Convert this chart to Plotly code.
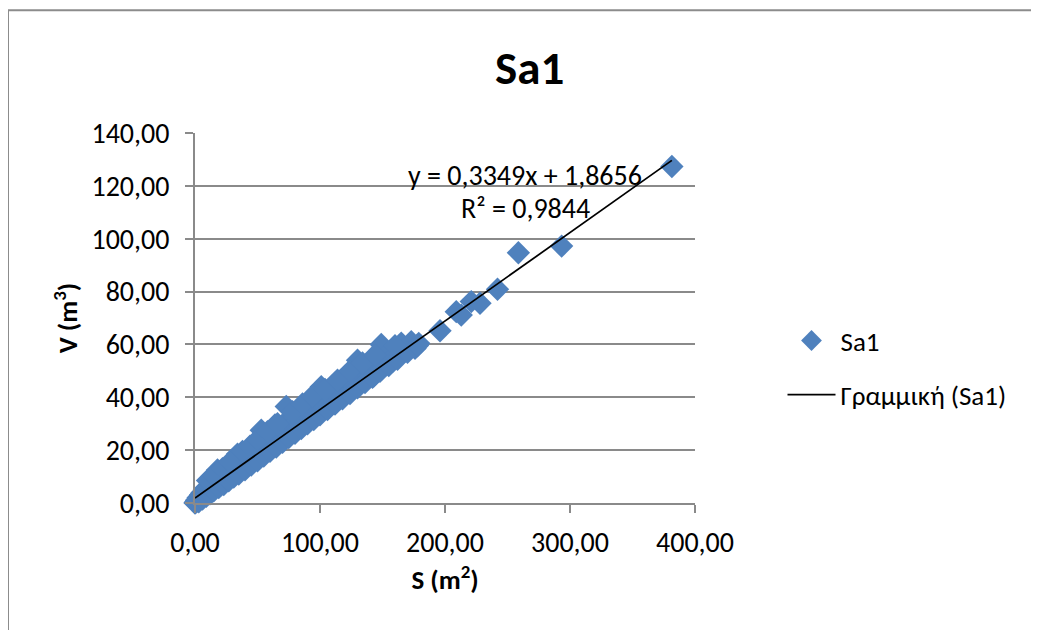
import plotly.graph_objects as go

# ---- data ----
S_values = [0.0, 0.3, 0.8, 1.2, 1.5, 2.0, 2.5, 3.0, 3.5, 4.0, 4.5, 5.0, 5.5, 6.0, 6.5, 7.0, 7.5, 8.0, 8.5, 9.0, 9.5,
            10, 10.5, 11, 12, 12.5, 13, 13.5, 14, 15, 15.5, 16, 17, 17.5, 18, 18.5, 19, 20, 21, 22, 23,
            24, 25, 26, 27, 28, 29, 30, 31, 32, 33, 34, 35, 36, 37, 38, 39, 40, 41, 42, 43,
            44, 45, 46, 47, 48, 49, 50, 51, 52, 53, 54, 55, 56, 57, 58, 59, 60, 61, 62, 63,
            64, 65, 66, 67, 68, 69, 70, 71, 72, 73, 74, 75, 76, 77, 78, 80, 81, 82, 84, 85,
            86, 88, 89, 90, 92, 93, 95, 96, 98, 100, 101, 103, 105, 107, 108, 110, 112, 113, 115, 117,
            118, 120, 122, 123, 125, 127, 128, 130, 131, 133, 135, 137, 139, 141, 143, 145, 147, 149, 150, 153,
            155, 158, 160, 163, 165, 168, 170, 173, 176, 179,
            3, 6, 9, 12, 15, 19, 23, 27, 31, 35, 40, 45, 50, 55, 60, 65, 70, 75, 80, 85,
            90, 95, 100, 106, 112, 118, 124, 130, 136, 142, 148, 155, 162, 170, 178,
            10, 15, 22, 28, 38, 44, 50, 58, 66, 78, 86, 94, 104, 114, 124, 134, 144, 160,
            196, 209, 213, 221, 228, 242, 258.7, 293.3, 381.5]
V_values = [0.0, 0.2, 0.5, 1.0, 0.6, 1.2, 2.0, 1.5, 2.4, 2.0, 3.1, 2.6, 3.8, 3.0, 4.2, 3.5, 5.0, 4.2, 4.9, 4.4, 6.0,
            5.0, 5.8, 5.2, 6.5, 5.8, 7.4, 6.3, 8.0, 6.8, 7.5, 9.0, 7.6, 8.4, 12.5, 8.0, 9.5, 8.6, 10.5, 9.2, 11.0,
            9.8, 12.2, 10.5, 11.5, 14.0, 11.2, 12.4, 15.0, 12.6, 13.5, 18.5, 13.4, 14.5, 16.5, 14.2, 15.6, 17.8, 15.4, 16.2, 18.5,
            16.0, 17.2, 20.0, 17.0, 18.2, 21.0, 18.4, 19.2, 22.5, 27.5, 20.0, 21.2, 24.0, 21.0, 22.0, 25.5, 21.8, 23.0, 27.0, 23.4,
            29.5, 24.2, 25.5, 28.0, 25.0, 26.0, 29.5, 26.2, 27.5, 36.5, 27.4, 28.5, 31.0, 28.0, 29.5, 32.5, 29.6, 31.0, 34.0, 30.8,
            32.2, 36.0, 32.0, 33.5, 37.0, 33.2, 35.0, 39.0, 35.0, 37.0, 44.0, 36.5, 38.5, 41.0, 38.0, 40.0, 43.0, 39.8, 42.0, 45.5,
            41.5, 43.5, 46.0, 42.5, 45.0, 48.5, 44.5, 54.0, 46.5, 49.0, 51.5, 47.5, 50.0, 53.0, 48.0, 51.5, 55.0, 60.0, 52.0, 54.5,
            57.0, 53.5, 56.0, 58.5, 60.5, 57.5, 59.0, 61.0, 58.5, 60.4,
            0.5, 1.5, 2.5, 3.5, 4.6, 5.8, 7.0, 8.4, 9.8, 11.0, 12.6, 14.4, 16.0, 17.8, 19.6, 21.2, 23.0, 24.8, 26.4, 28.2,
            30.0, 31.6, 33.4, 35.4, 37.4, 39.4, 41.4, 43.6, 45.6, 47.6, 49.8, 52.0, 54.4, 57.0, 59.6,
            8.5, 10.5, 13.0, 15.5, 19.5, 21.5, 24.0, 27.0, 30.0, 34.5, 37.5, 40.5, 43.0, 46.5, 50.0, 53.0, 56.0, 59.5,
            65.2, 72.4, 71.1, 76.2, 75.6, 80.9, 94.7, 97.2, 127.3]

series_name = "Sa1"
trend_name = "Γραμμική (Sa1)"
slope = 0.3349
intercept = 1.8656
r_squared = 0.9844

x_ticks = [0, 100, 200, 300, 400]
y_ticks = [0, 20, 40, 60, 80, 100, 120, 140]

FONT = "Carlito, Lato, 'Open Sans', sans-serif"
GRID = "#8a8a8a"
BLUE = "#4f81bd"

trend_x = [0, max(S_values)]
trend_y = [slope * x + intercept for x in trend_x]

fig = go.Figure()
fig.add_trace(go.Scatter(
    x=S_values, y=V_values, mode="markers", name=series_name, legendgroup="a", cliponaxis=False,
    marker=dict(symbol="diamond", size=18, color=BLUE, line=dict(width=0)),
))
fig.add_trace(go.Scatter(
    x=trend_x, y=trend_y, mode="lines", name=trend_name, legendgroup="b",
    line=dict(color="black", width=1.75),
))

def fmt(v):
    return f"{v:.4f}".replace(".", ",")

fig.add_annotation(text=f"y = {fmt(slope)}x + {fmt(intercept)}", xref="paper", yref="paper",
                   x=0.66, y=0.884, showarrow=False, xanchor="center", yanchor="middle",
                   font=dict(family=FONT, size=28, color="black"))
fig.add_annotation(text=f"R² = {fmt(r_squared)}", xref="paper", yref="paper",
                   x=0.66, y=0.797, showarrow=False, xanchor="center", yanchor="middle",
                   font=dict(family=FONT, size=28, color="black"))

# outer chart border
fig.add_shape(type="rect", xref="paper", yref="paper", x0=-0.374, x1=1.75, y0=-0.4, y1=1.332,
              line=dict(color="#8c8c8c", width=2), fillcolor="rgba(0,0,0,0)", layer="below")

fig.update_layout(
    width=1031, height=622,
    margin=dict(l=187, r=344, t=125, b=127),
    paper_bgcolor="white", plot_bgcolor="white",
    separators=",.",
    font=dict(family=FONT, size=28, color="black"),
    title=dict(text="<b>Sa1</b>", x=0.506, xanchor="center", y=0.905, yanchor="middle",
               font=dict(family=FONT, size=47, color="black")),
    showlegend=True,
    legend=dict(x=1.175, xanchor="left", y=0.365, yanchor="middle", tracegroupgap=16, itemwidth=48,
                font=dict(family=FONT, size=27, color="black"), bgcolor="rgba(0,0,0,0)"),
    xaxis=dict(range=[0, 400], tickvals=x_ticks, tickformat=".2f", showgrid=False,
               showline=True, linecolor=GRID, linewidth=2, ticks="outside", ticklen=8,
               tickcolor=GRID, tickwidth=2, zeroline=False, ticklabelstandoff=5,
               tickfont=dict(family=FONT, size=28),
               title=dict(text="<b>S (m<sup>2</sup>)</b>", font=dict(family=FONT, size=27), standoff=10)),
    yaxis=dict(range=[0, 140], tickvals=y_ticks, tickformat=".2f", showgrid=True,
               gridcolor=GRID, gridwidth=2, showline=True, linecolor=GRID, linewidth=2,
               ticks="outside", ticklen=8, tickcolor=GRID, tickwidth=2, zeroline=False,
               ticklabelstandoff=10, tickfont=dict(family=FONT, size=28),
               title=dict(text="<b>V (m<sup>3</sup>)</b>", font=dict(family=FONT, size=27), standoff=6)),
)

fig.write_html("out.html")
